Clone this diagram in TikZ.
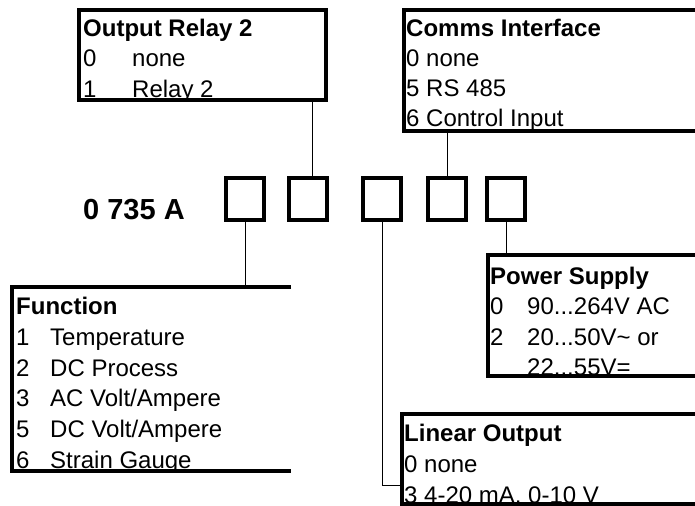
\documentclass[tikz,border=0pt]{standalone}
\usepackage{fontspec}
\setmainfont{Liberation Sans}
\begin{document}
\begin{tikzpicture}[x=1bp,y=-1bp,
  area/.style={draw=none, inner sep=0pt, outer sep=0pt, anchor=north west},
  boxline/.style={line width=3.5bp, line join=miter},
  sqbox/.style={draw, line width=4bp, minimum width=38bp, minimum height=42bp, inner sep=0pt},
  conn/.style={line width=1bp},
  txt/.style={anchor=base west, inner sep=0pt, font=\fontsize{24bp}{30bp}\selectfont},
  ttl/.style={anchor=base west, inner sep=0pt, font=\fontsize{24bp}{30bp}\selectfont\bfseries},
  code/.style={anchor=base west, inner sep=0pt, font=\fontsize{29bp}{34bp}\selectfont\bfseries},
]
\useasboundingbox (0,0) rectangle (695,506);

% areas of the boxes
\node[area, draw, boxline, minimum width=247bp, minimum height=90bp] (relay) at (79,10) {};
\node[area, minimum width=300bp, minimum height=121bp] (comms) at (404,10) {};
\node[area, minimum width=279bp, minimum height=184bp] (func) at (12,287) {};
\node[area, minimum width=220bp, minimum height=121bp] (power) at (488,255) {};
\node[area, minimum width=300bp, minimum height=90bp] (lin) at (402,414) {};

\draw[boxline] (comms.north east) -- (comms.north west) -- (comms.south west) -- (comms.south east);
\draw[boxline] (func.north east) -- (func.north west) -- (func.south west) -- (func.south east);
\draw[boxline] (power.north east) -- (power.north west) -- (power.south west) -- (power.south east);
\draw[boxline] (lin.north east) -- (lin.north west) -- (lin.south west) -- (lin.south east);

% code squares
\node[code] (code) at (83,220) {0 735 A};
\node[sqbox] (s1) at (245,199) {};
\node[sqbox] (s2) at (308,199) {};
\node[sqbox] (s3) at (382,199) {};
\node[sqbox] (s4) at (447,199) {};
\node[sqbox] (s5) at (506,199) {};

% connectors
\draw[conn] (s1.south) -- (s1.south |- func.north);
\draw[conn] ([xshift=4bp]s2.north) -- ([xshift=4bp]s2.north |- relay.south);
\draw[conn] (s4.north) -- (s4.north |- comms.south);
\draw[conn] (s5.south) -- (s5.south |- power.north);
\coordinate (linin) at (402,485);
\draw[conn] (s3.south) |- (linin);

% Output Relay 2
\node[ttl] (r0) at (83,37) {Output Relay 2};
\node[txt] (r1a) at (83,67) {0};
\node[txt] (r1b) at (132,67) {none};
\node[txt] (r2a) at (83,98) {1};
\node[txt] (r2b) at (132,98) {Relay 2};

% Comms Interface
\node[ttl] (c0) at (406,37) {Comms Interface};
\node[txt] (c1) at (406,67) {0 none};
\node[txt] (c2) at (406,97) {5 RS 485};
\node[txt] (c3) at (406,127) {6 Control Input};

% Function
\node[ttl] (f0) at (16,314) {Function};
\node[txt] (f1a) at (16,345) {1};
\node[txt] (f1b) at (50,345) {Temperature};
\node[txt] (f2a) at (16,376) {2};
\node[txt] (f2b) at (50,376) {DC Process};
\node[txt] (f3a) at (16,406) {3};
\node[txt] (f3b) at (50,406) {AC Volt/Ampere};
\node[txt] (f4a) at (16,437) {5};
\node[txt] (f4b) at (50,437) {DC Volt/Ampere};
\node[txt] (f5a) at (16,468) {6};
\node[txt] (f5b) at (50,468) {Strain Gauge};

% Power Supply
\node[ttl] (p0) at (490,284) {Power Supply};
\node[txt] (p1a) at (490,314) {0};
\node[txt] (p1b) at (527,314) {90...264V AC};
\node[txt] (p2a) at (490,345) {2};
\node[txt] (p2b) at (527,345) {20...50V\textasciitilde{} or};
\node[txt] (p3b) at (527,375) {22...55V=};

% Linear Output
\node[ttl] (l0) at (404,441) {Linear Output};
\node[txt] (l1) at (404,472) {0 none};
\node[txt] (l2) at (404,503) {3 4-20 mA, 0-10 V};
\end{tikzpicture}
\end{document}
